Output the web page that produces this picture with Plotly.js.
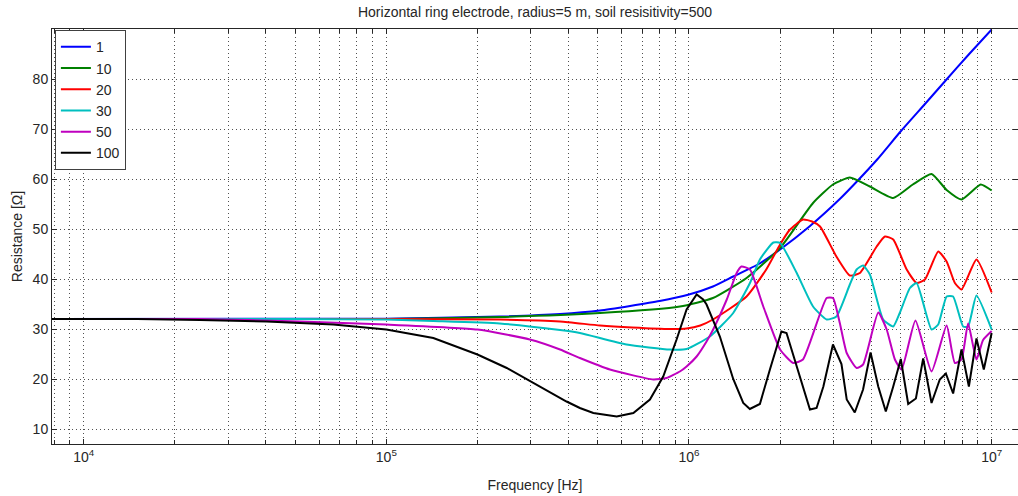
<!DOCTYPE html>
<html><head><meta charset="utf-8">
<script src="https://cdn.plot.ly/plotly-3.0.1.min.js"></script>
<style>html,body{margin:0;padding:0;background:#fff;}#chart{width:1018px;height:496px;}</style>
</head><body><div id="chart"></div>
<script>
// ---- data ----
const seriesNames = ['1', '10', '20', '30', '50', '100'];
const seriesColors = ['#0000ff', '#008000', '#ff0000', '#00bfbf', '#bf00bf', '#000000'];

const freq1 = [7.86e3, 1e5, 2.37e5, 3.75e5, 5.08e5, 8.0e5, 1.0e6, 1.2e6, 1.4e6, 1.7e6, 2.0e6, 2.5e6, 3.15e6, 3.6e6, 4.2e6, 5.0e6, 6.0e6, 7.0e6, 8.4e6, 1e7];
const res1  = [32.0, 32.05, 32.5, 33.0, 33.7, 35.6, 36.9, 38.5, 40.5, 43.0, 45.9, 50.5, 56.0, 59.6, 64.0, 69.5, 74.9, 79.5, 84.9, 89.9];

const freq10 = [7.86e3, 1e5, 2.37e5, 5.08e5, 9.33e5, 1.2e6, 1.55e6, 2.0e6, 2.57e6, 2.99e6, 3.40e6, 3.96e6, 4.73e6, 5.49e6, 6.33e6, 7.1e6, 7.95e6, 9.2e6, 1e7];
const res10  = [32.0, 32.0, 32.4, 33.2, 34.5, 36.2, 40.2, 46.2, 55.2, 58.9, 60.3, 58.5, 56.2, 58.9, 61.0, 57.8, 55.9, 58.9, 57.7];

const freq20 = [7.86e3, 1e5, 2.37e5, 3.75e5, 5.08e5, 6.5e5, 8.65e5, 9.82e5, 1.09e6, 1.2e6, 1.55e6, 1.8e6, 2.0e6, 2.15e6, 2.38e6, 2.55e6, 2.71e6, 3.07e6, 3.40e6, 3.67e6, 4.17e6, 4.44e6, 4.73e6, 5.24e6, 5.65e6, 6.02e6, 6.66e6, 7.1e6, 7.56e6, 7.95e6, 8.91e6, 1e7];
const res20  = [32.0, 32.0, 31.9, 31.5, 30.7, 30.3, 30.0, 30.1, 30.7, 31.9, 36.5, 41.9, 46.9, 49.8, 51.9, 51.5, 50.5, 44.5, 40.7, 41.2, 46.5, 48.5, 47.9, 41.9, 39.2, 39.9, 45.5, 43.5, 39.2, 37.9, 43.9, 37.3];

const freq30 = [7.86e3, 5e4, 1e5, 1.43e5, 2.37e5, 3.75e5, 4.36e5, 6.22e5, 8.65e5, 9.82e5, 1.172e6, 1.4e6, 1.59e6, 1.715e6, 1.9e6, 2.0e6, 2.27e6, 2.57e6, 2.85e6, 3.07e6, 3.40e6, 3.58e6, 3.76e6, 3.96e6, 4.38e6, 4.73e6, 4.97e6, 5.37e6, 5.65e6, 6.33e6, 6.66e6, 7.1e6, 7.46e6, 8.05e6, 8.36e6, 8.91e6, 1e7];
const res30  = [32.0, 32.0, 31.9, 31.6, 31.1, 29.8, 29.2, 26.9, 25.9, 26.0, 28.5, 33.2, 39.2, 43.9, 47.3, 47.2, 41.2, 34.5, 31.9, 32.5, 38.9, 41.9, 42.7, 40.9, 31.9, 30.5, 33.2, 38.2, 39.2, 29.9, 30.9, 36.5, 36.5, 30.5, 30.5, 36.7, 29.9];

const freq50 = [7.86e3, 2.42e4, 5.18e4, 1e5, 2e5, 2.98e5, 3.75e5, 4.36e5, 5.48e5, 7.62e5, 8.43e5, 9.33e5, 9.82e5, 1.06e6, 1.143e6, 1.202e6, 1.331e6, 1.437e6, 1.49e6, 1.59e6, 1.76e6, 2.0e6, 2.21e6, 2.38e6, 2.85e6, 2.99e6, 3.15e6, 3.32e6, 3.58e6, 3.76e6, 4.22e6, 4.50e6, 4.79e6, 5.04e6, 5.60e6, 6.33e6, 7.10e6, 7.56e6, 7.95e6, 8.36e6, 8.91e6, 9.37e6, 1e7];
const res50  = [32.0, 32.0, 31.5, 30.9, 29.9, 27.9, 25.9, 24.2, 21.9, 19.9, 20.2, 21.5, 22.5, 24.5, 27.5, 29.9, 35.8, 41.2, 42.5, 41.9, 34.5, 25.9, 23.2, 23.9, 36.2, 36.2, 31.2, 25.2, 22.2, 22.9, 33.3, 29.9, 23.9, 21.9, 31.7, 21.5, 30.7, 23.2, 23.9, 31.1, 23.9, 27.8, 29.6];

const freq100 = [7.86e3, 1.5e4, 2.42e4, 4.02e4, 6.68e4, 1e5, 1.43e5, 2e5, 2.5e5, 3.06e5, 3.94e5, 4.36e5, 4.83e5, 5.77e5, 6.55e5, 7.43e5, 8.22e5, 9.10e5, 9.82e5, 1.06e6, 1.114e6, 1.143e6, 1.265e6, 1.40e6, 1.511e6, 1.589e6, 1.715e6, 1.851e6, 2.02e6, 2.10e6, 2.27e6, 2.51e6, 2.64e6, 2.78e6, 2.99e6, 3.19e6, 3.32e6, 3.53e6, 3.76e6, 3.98e6, 4.22e6, 4.47e6, 4.73e6, 5.01e6, 5.30e6, 5.62e6, 5.94e6, 6.33e6, 6.74e6, 7.06e6, 7.46e6, 7.95e6, 8.41e6, 8.91e6, 9.42e6, 1e7];
const res100  = [32.0, 32.0, 31.8, 31.5, 30.9, 29.9, 28.2, 24.9, 22.2, 19.2, 15.5, 14.2, 13.2, 12.5, 13.2, 15.9, 20.5, 27.9, 33.9, 36.9, 35.9, 34.9, 28.5, 20.0, 15.2, 14.0, 15.0, 21.9, 29.5, 29.2, 22.5, 13.9, 14.2, 18.5, 26.9, 23.0, 15.9, 13.3, 17.9, 25.3, 18.5, 13.5, 18.5, 24.0, 15.0, 16.1, 24.1, 15.2, 19.9, 21.1, 17.1, 25.9, 18.5, 28.1, 21.9, 29.2];

const xMajorTicks = [1e4, 1e5, 1e6, 1e7];
const xMajorLabels = ['10<sup>4</sup>', '10<sup>5</sup>', '10<sup>6</sup>', '10<sup>7</sup>'];
const yTicks = [10, 20, 30, 40, 50, 60, 70, 80];
const titleText = 'Horizontal ring electrode, radius=5 m, soil resisitivity=500';
const xTitle = 'Frequency [Hz]';
const yTitle = 'Resistance [Ω]';

// ---- build ----
const freqs = [freq1, freq10, freq20, freq30, freq50, freq100];
const ress = [res1, res10, res20, res30, res50, res100];
const shapes = ['spline', 'spline', 'spline', 'spline', 'spline', 'linear'];
const traces = seriesNames.map((n, i) => ({
  type: 'scatter', mode: 'lines', name: n,
  x: freqs[i], y: ress[i],
  line: {color: seriesColors[i], width: 2, shape: shapes[i], smoothing: 0.5}
}));

const minorVals = [];
for (let d = 3; d <= 7; d++) {
  for (let m = 2; m <= 9; m++) {
    const v = m * Math.pow(10, d);
    if (v > 7.9e3 && v < 1.2e7) minorVals.push(v);
  }
}

const FONT = "'Liberation Sans', Arial, Helvetica, sans-serif";
const FS = 14;
const TXT = '#262626';
const gridDash = '1px,3px';
const gridColor = '#505050';

const layout = {
  width: 1018, height: 496,
  margin: {l: 52, r: 0, t: 29, b: 52},
  paper_bgcolor: '#ffffff', plot_bgcolor: '#ffffff',
  font: {family: FONT, size: FS, color: TXT},
  title: {text: titleText, x: 0.5, xref: 'paper', xanchor: 'center', y: 1 - 12/496, yref: 'container', yanchor: 'middle', font: {family: FONT, size: FS, color: TXT}},
  showlegend: true,
  legend: {
    x: 0.003, y: 0.997, xanchor: 'left', yanchor: 'top',
    bgcolor: '#ffffff', bordercolor: '#404040', borderwidth: 1,
    font: {family: FONT, size: FS, color: TXT},
    tracegroupgap: 0
  },
  xaxis: {
    type: 'log', range: [Math.log10(7.86e3), Math.log10(1.222e7)],
    tickmode: 'array', tickvals: xMajorTicks, ticktext: xMajorLabels,
    ticks: 'inside', ticklen: 5, tickcolor: TXT,
    showline: true, linecolor: TXT, linewidth: 1, mirror: 'ticks',
    showgrid: true, gridcolor: gridColor, griddash: gridDash, gridwidth: 1,
    zeroline: false,
    minor: {tickmode: 'array', tickvals: minorVals, ticks: 'inside', ticklen: 4, tickcolor: TXT, showgrid: true, gridcolor: gridColor, griddash: gridDash, gridwidth: 1},
    title: {text: xTitle, standoff: 16, font: {family: FONT, size: FS, color: TXT}},
    automargin: false
  },
  yaxis: {
    range: [7, 90],
    tickmode: 'array', tickvals: yTicks,
    ticks: 'inside', ticklen: 5, tickcolor: TXT,
    showline: true, linecolor: TXT, linewidth: 1, mirror: 'ticks',
    showgrid: true, gridcolor: gridColor, griddash: gridDash, gridwidth: 1,
    zeroline: false,
    title: {text: yTitle, standoff: 6, font: {family: FONT, size: FS, color: TXT}},
    automargin: false
  }
};

Plotly.newPlot('chart', traces, layout, {displayModeBar: false, staticPlot: true});
</script>
</body></html>
